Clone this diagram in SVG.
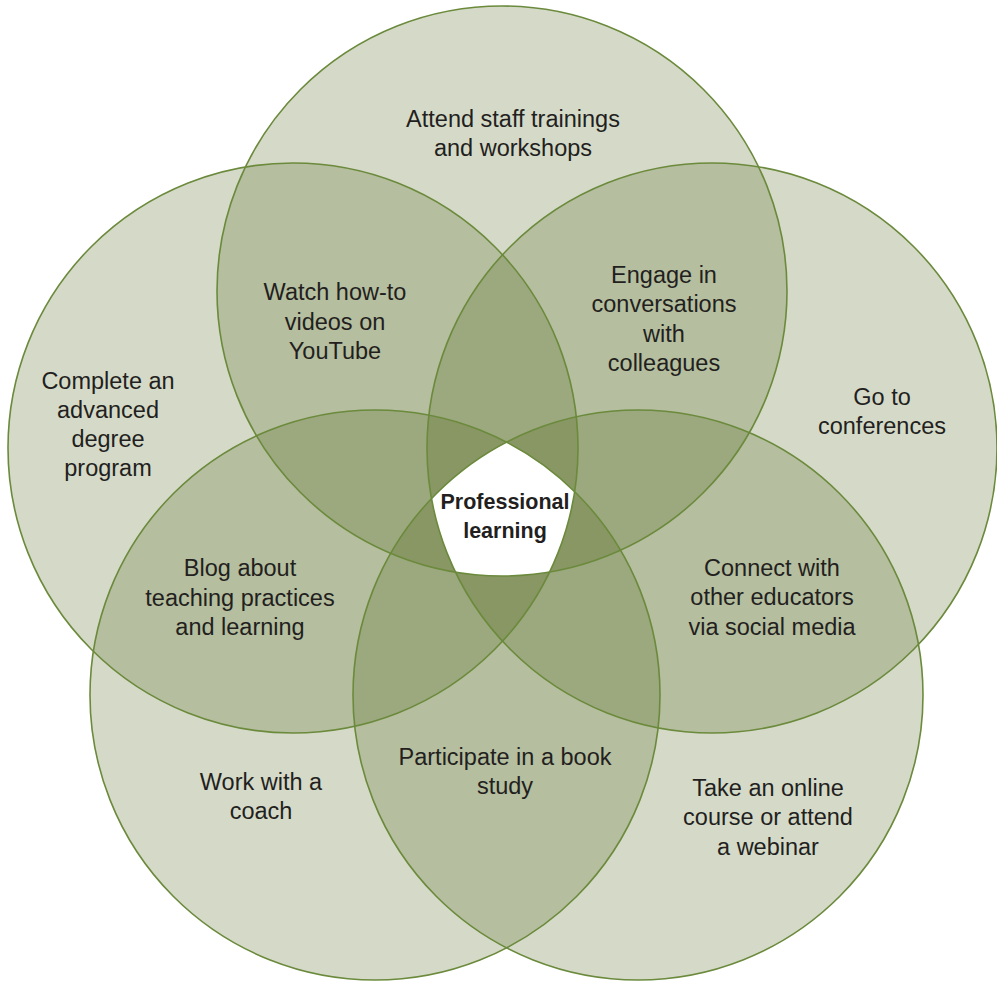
<svg xmlns="http://www.w3.org/2000/svg" width="997" height="981" viewBox="0 0 997 981">
<style>
.fill{fill:#50651a;fill-opacity:0.24;stroke:none}
.edge{fill:none;stroke:#6b8a3c;stroke-width:1.6}
text{font-family:"Liberation Sans",Arial,sans-serif;font-size:23.5px;fill:#231f20;text-anchor:middle}
.b{font-weight:bold;font-size:21.5px}
</style>
<defs>
<circle id="cT" cx="502" cy="291" r="285"/>
<circle id="cL" cx="293" cy="448" r="285"/>
<circle id="cR" cx="712" cy="448" r="285"/>
<circle id="cBL" cx="375" cy="695" r="285"/>
<circle id="cBR" cx="638" cy="695" r="285"/>
<clipPath id="kT"><use href="#cT"/></clipPath>
<clipPath id="kL"><use href="#cL"/></clipPath>
<clipPath id="kR"><use href="#cR"/></clipPath>
<clipPath id="kBL"><use href="#cBL"/></clipPath>
<clipPath id="kBR"><use href="#cBR"/></clipPath>
</defs>
<rect width="997" height="981" fill="#ffffff"/>
<g id="fills">
<use href="#cT" class="fill"/>
<use href="#cL" class="fill"/>
<use href="#cR" class="fill"/>
<use href="#cBL" class="fill"/>
<use href="#cBR" class="fill"/>
</g>
<g id="center-region" clip-path="url(#kT)"><g clip-path="url(#kL)"><g clip-path="url(#kR)"><g clip-path="url(#kBL)"><g clip-path="url(#kBR)">
<rect x="380" y="400" width="250" height="220" fill="#ffffff"/>
</g></g></g></g></g>
<g id="node-staff-trainings"><use href="#cT" class="edge"/>
<text x="513" y="127">Attend staff trainings</text><text x="513" y="156">and workshops</text></g>
<g id="node-advanced-degree"><use href="#cL" class="edge"/>
<text x="108" y="389">Complete an</text><text x="108" y="418">advanced</text><text x="108" y="447">degree</text><text x="108" y="476">program</text></g>
<g id="node-conferences"><use href="#cR" class="edge"/>
<text x="882" y="405">Go to</text><text x="882" y="434">conferences</text></g>
<g id="node-coach"><use href="#cBL" class="edge"/>
<text x="261" y="790">Work with a</text><text x="261" y="819">coach</text></g>
<g id="node-online-course"><use href="#cBR" class="edge"/>
<text x="768" y="796">Take an online</text><text x="768" y="825">course or attend</text><text x="768" y="855">a webinar</text></g>
<g id="label-youtube"><text x="335" y="300">Watch how-to</text><text x="335" y="330">videos on</text><text x="335" y="359">YouTube</text></g>
<g id="label-conversations"><text x="664" y="283">Engage in</text><text x="664" y="312">conversations</text><text x="664" y="342">with</text><text x="664" y="371">colleagues</text></g>
<g id="label-blog"><text x="240" y="576">Blog about</text><text x="240" y="606">teaching practices</text><text x="240" y="635">and learning</text></g>
<g id="label-social-media"><text x="772" y="576">Connect with</text><text x="772" y="605">other educators</text><text x="772" y="635">via social media</text></g>
<g id="label-book-study"><text x="505" y="765">Participate in a book</text><text x="505" y="794">study</text></g>
<g id="node-professional-learning"><text class="b" x="505" y="509">Professional</text><text class="b" x="505" y="538">learning</text></g>
</svg>
